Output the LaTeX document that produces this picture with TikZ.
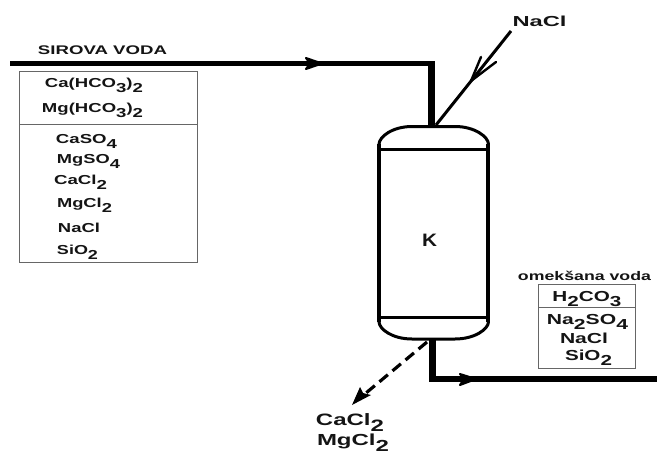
\documentclass[tikz,border=0pt]{standalone}
\usepackage{fontspec}
\usepackage{graphicx}
\setmainfont{Liberation Sans}
\usetikzlibrary{arrows.meta}
\newcommand{\sbs}[1]{\raisebox{-0.4em}{#1}}
% size, target width, text
\newcommand{\lab}[3]{\fontsize{#1}{#1}\selectfont\bfseries\resizebox{#2pt}{\height}{#3}}
\tikzset{
  x=1pt,y=-1pt,
  lbl/.style={inner sep=0pt,anchor=base,text=black!92},
  thinbox/.style={draw=black!60,line width=1pt},
  vesselline/.style={line width=3pt},
  vesselwall/.style={line width=4pt},
  barb/.style={line width=2pt,line cap=round,line join=round},
}
\begin{document}
\begin{tikzpicture}
\useasboundingbox (0,0) rectangle (657,455);
% left box
\node[thinbox,inner sep=0pt,anchor=north west] (leftbox) at (19,71) {\tikz\path (0,0) rectangle (178,-191);};
\draw[thinbox] (leftbox.west |- 0,124) -- (leftbox.east |- 0,124);
\node[lbl] (title) at (102.5,54) {\lab{12.5}{129}{SIROVA VODA}};
\node[lbl] (a1) at (94,87) {\lab{13}{98}{Ca(HCO\sbs{3})\sbs{2}}};
\node[lbl] (a2) at (92.5,112) {\lab{13}{101}{Mg(HCO\sbs{3})\sbs{2}}};
\node[lbl] (a3) at (86.5,143) {\lab{13}{61}{CaSO\sbs{4}}};
\node[lbl] (a4) at (88.5,163) {\lab{13}{63}{MgSO\sbs{4}}};
\node[lbl] (a5) at (80.5,184) {\lab{13}{53}{CaCl\sbs{2}}};
\node[lbl] (a6) at (84.5,207) {\lab{13}{55}{MgCl\sbs{2}}};
\node[lbl] (a7) at (79,232) {\lab{13}{42}{NaCl}};
\node[lbl] (a8) at (77.5,254) {\lab{13}{41}{SiO\sbs{2}}};
% vessel
\node[inner sep=0pt,minimum width=109pt,minimum height=214pt] (vessel) at (433.75,233) {};
\node[lbl] (k) at (429.5,246) {\lab{18}{15}{K}};
\draw[vesselline,line join=round] (vessel.west |- 0,144) .. controls (379.25,137) and (392,126.5) .. (412,126.5)
  -- (455,126.5) .. controls (475,126.5) and (488.25,137) .. (vessel.east |- 0,144)
  -- (vessel.east |- 0,322) .. controls (488.25,329) and (475,339) .. (455,339)
  -- (412,339) .. controls (392,339) and (379.25,329) .. (vessel.west |- 0,322) -- cycle;
\draw[vesselwall] (vessel.west |- 0,144) -- (vessel.west |- 0,322);
\draw[vesselwall] (vessel.east |- 0,144) -- (vessel.east |- 0,322);
\draw[vesselline] (vessel.west |- 0,149) -- (vessel.east |- 0,149);
\draw[vesselline] (vessel.west |- 0,317) -- (vessel.east |- 0,317);
% inlet
\coordinate (inS) at (10,63.5);
\coordinate (inC) at (431.5,63.5);
\coordinate (inE) at (431.5,125);
\draw[line width=5pt] (inS) -- (inC);
\draw[line width=7pt] (431.5,61) -- (inE);
\draw[barb,fill=black] (306,58) -- (322,63.5) -- (306,69) -- (310,63.5) -- cycle;
% NaCl
\node[lbl] (nacl) at (539.5,27) {\lab{14.5}{54}{NaCl}};
\coordinate (naS) at (511,31);
\coordinate (naE) at (436,125);
\draw[line width=3pt] (naS) -- (naE);
\draw[barb,line width=2.4pt] (481,57) -- (471,81) -- (496,62);
% outlet
\coordinate (outS) at (432.5,340);
\coordinate (outC) at (432.5,379);
\coordinate (outE) at (657,379);
\draw[line width=7pt] (outS) -- (432.5,382);
\draw[line width=5.5pt] (429,379) -- (outE);
\draw[barb,fill=black] (460,374) -- (476,379) -- (460,385) -- (464,379) -- cycle;
% box right
\node[lbl] (omek) at (584.5,280) {\lab{12.5}{133}{omekšana voda}};
\node[thinbox,inner sep=0pt,anchor=north west] (rightbox) at (538,284) {\tikz\path (0,0) rectangle (97,-84);};
\draw[thinbox] (rightbox.west |- 0,307) -- (rightbox.east |- 0,307);
\node[lbl] (b1) at (587,301) {\lab{14.5}{69}{H\sbs{2}CO\sbs{3}}};
\node[lbl] (b2) at (587.5,324) {\lab{14.5}{81}{Na\sbs{2}SO\sbs{4}}};
\node[lbl] (b3) at (584,343) {\lab{14.5}{48}{NaCl}};
\node[lbl] (b4) at (588.5,360) {\lab{14.5}{47}{SiO\sbs{2}}};
% dashed
\coordinate (dashS) at (427,342);
\coordinate (dashE) at (366,393);
\draw[line width=3.2pt,dash pattern=on 11pt off 6pt] (dashS) -- (dashE);
\fill (352,405) -- (360,387) -- (363,393) -- (371,395) -- cycle;
\node[lbl] (c1) at (350,425) {\lab{16.5}{68}{CaCl\sbs{2}}};
\node[lbl] (c2) at (353,445.5) {\lab{16}{72}{MgCl\sbs{2}}};
\end{tikzpicture}
\end{document}
